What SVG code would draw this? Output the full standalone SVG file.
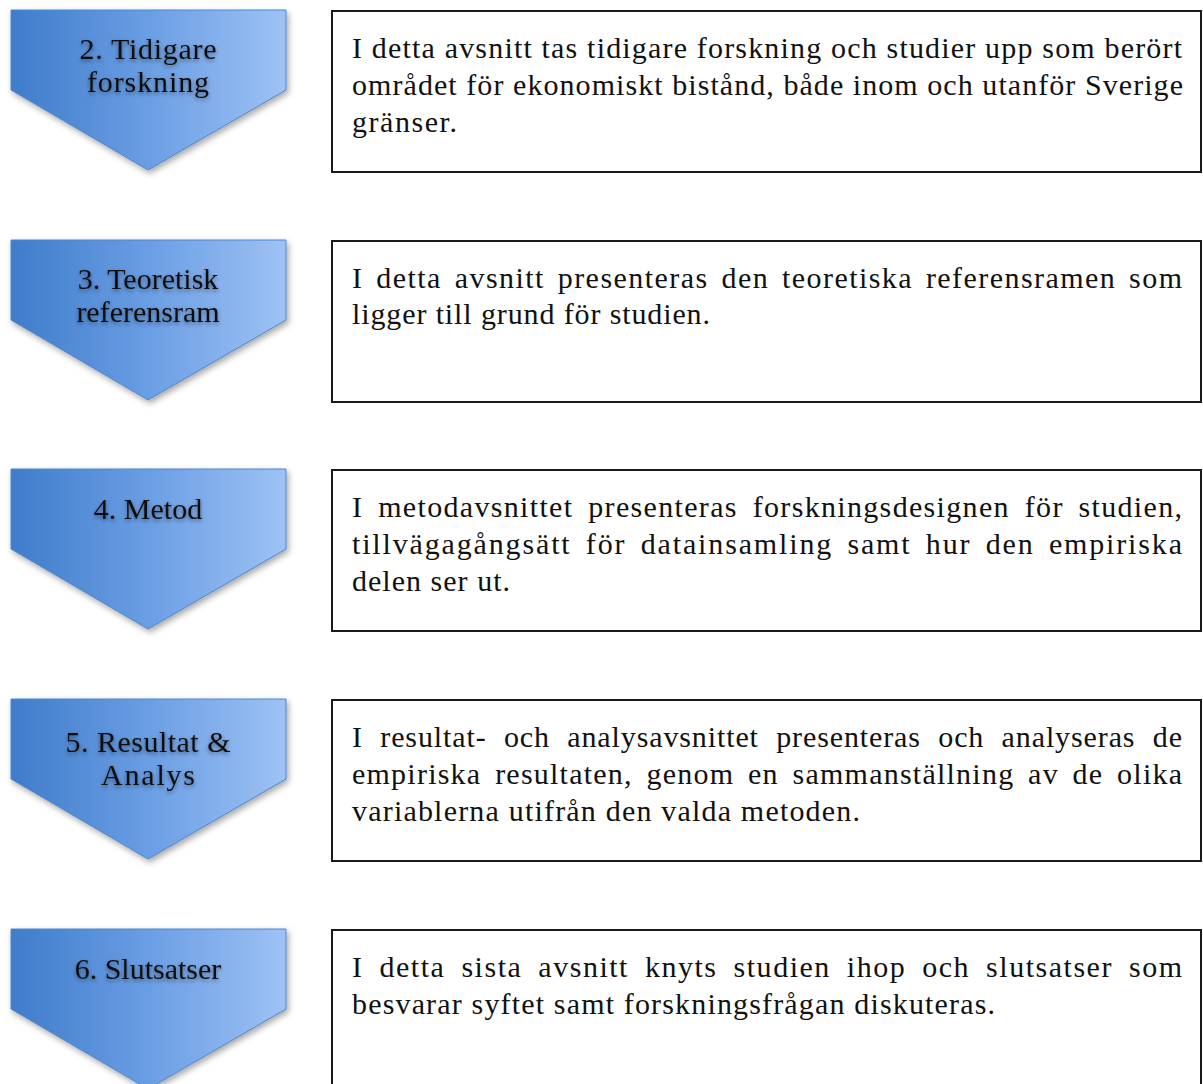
<svg xmlns="http://www.w3.org/2000/svg" width="1203" height="1084" viewBox="0 0 1203 1084">
<defs>
<linearGradient id="blue" x1="0" y1="0" x2="1" y2="0">
<stop offset="0" stop-color="#3f7cca"/>
<stop offset="0.5" stop-color="#6a9ee4"/>
<stop offset="1" stop-color="#9ec2f4"/>
</linearGradient>
<filter id="shadow" x="-10%" y="-10%" width="130%" height="130%">
<feDropShadow dx="2" dy="3" stdDeviation="3" flood-color="#000" flood-opacity="0.35"/>
</filter>
<filter id="tshadow" x="-10%" y="-30%" width="120%" height="170%">
<feDropShadow dx="0" dy="2" stdDeviation="2" flood-color="#000" flood-opacity="0.45"/>
</filter>
<path id="chev" d="M0 0 H275 V80 L137 160 L0 80 Z"/>
</defs>
<style>
.chev{fill:url(#blue);stroke:#4f86cf;stroke-width:1;filter:url(#shadow)}
.lbl{font-family:"Liberation Serif","DejaVu Serif",serif;font-size:30px;fill:#111;text-anchor:middle;filter:url(#tshadow)}
.box{fill:#fff;stroke:#1a1a1a;stroke-width:2}
.txt{font-family:"Liberation Serif","DejaVu Serif",serif;font-size:30px;fill:#111}
</style>
<rect width="1203" height="1084" fill="#fff"/>
<g id="connectors"></g>

<g id="n2">
<use href="#chev" class="chev" x="11" y="10"/>
<text class="lbl" x="148" y="59" textLength="137" lengthAdjust="spacing">2. Tidigare</text>
<text class="lbl" x="148" y="92" textLength="122" lengthAdjust="spacing">forskning</text>
</g>
<g id="d2">
<rect class="box" x="332" y="11" width="869" height="161"/>
<text class="txt" x="352" y="58" textLength="830" lengthAdjust="spacing">I detta avsnitt tas tidigare forskning och studier upp som berört</text>
<text class="txt" x="352" y="95" textLength="831" lengthAdjust="spacing">området för ekonomiskt bistånd, både inom och utanför Sverige</text>
<text class="txt" x="352" y="132" textLength="105" lengthAdjust="spacing">gränser.</text>
</g>

<g id="n3">
<use href="#chev" class="chev" x="11" y="240"/>
<text class="lbl" x="148" y="289">3. Teoretisk</text>
<text class="lbl" x="148" y="322">referensram</text>
</g>
<g id="d3">
<rect class="box" x="332" y="241" width="869" height="161"/>
<text class="txt" x="352" y="288" word-spacing="4" textLength="830" lengthAdjust="spacing">I detta avsnitt presenteras den teoretiska referensramen som</text>
<text class="txt" x="352" y="324" textLength="358" lengthAdjust="spacing">ligger till grund för studien.</text>
</g>

<g id="n4">
<use href="#chev" class="chev" x="11" y="469"/>
<text class="lbl" x="148" y="519">4. Metod</text>
</g>
<g id="d4">
<rect class="box" x="332" y="470" width="869" height="161"/>
<text class="txt" x="352" y="517" word-spacing="6" textLength="830" lengthAdjust="spacing">I metodavsnittet presenteras forskningsdesignen för studien,</text>
<text class="txt" x="352" y="554" word-spacing="5" textLength="830" lengthAdjust="spacing">tillvägagångsätt för datainsamling samt hur den empiriska</text>
<text class="txt" x="352" y="591" textLength="158" lengthAdjust="spacing">delen ser ut.</text>
</g>

<g id="n5">
<use href="#chev" class="chev" x="11" y="699"/>
<text class="lbl" x="148" y="752" textLength="165" lengthAdjust="spacing">5. Resultat &amp;</text>
<text class="lbl" x="148" y="785" textLength="94" lengthAdjust="spacing">Analys</text>
</g>
<g id="d5">
<rect class="box" x="332" y="700" width="869" height="161"/>
<text class="txt" x="352" y="747" word-spacing="9" textLength="830" lengthAdjust="spacing">I resultat- och analysavsnittet presenteras och analyseras de</text>
<text class="txt" x="352" y="784" word-spacing="5" textLength="830" lengthAdjust="spacing">empiriska resultaten, genom en sammanställning av de olika</text>
<text class="txt" x="352" y="821" textLength="508" lengthAdjust="spacing">variablerna utifrån den valda metoden.</text>
</g>

<g id="n6">
<use href="#chev" class="chev" x="11" y="929"/>
<text class="lbl" x="148" y="979">6. Slutsatser</text>
</g>
<g id="d6">
<rect class="box" x="332" y="930" width="869" height="170"/>
<text class="txt" x="352" y="977" word-spacing="7" textLength="830" lengthAdjust="spacing">I detta sista avsnitt knyts studien ihop och slutsatser som</text>
<text class="txt" x="352" y="1014" textLength="643" lengthAdjust="spacing">besvarar syftet samt forskningsfrågan diskuteras.</text>
</g>
</svg>
